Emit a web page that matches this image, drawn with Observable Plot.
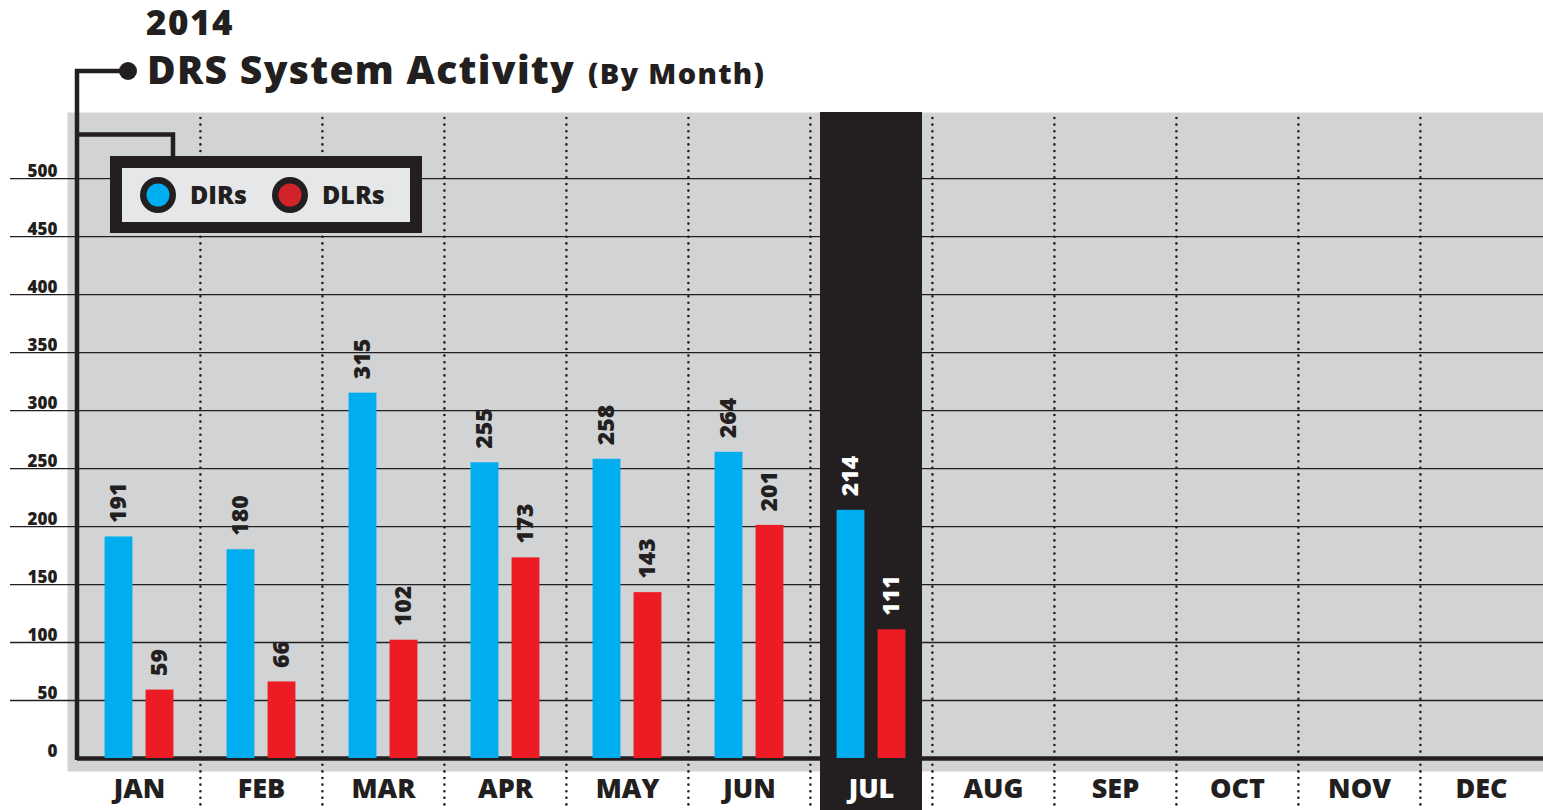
<!DOCTYPE html>
<html>
<head>
<meta charset="utf-8">
<script src="https://cdn.jsdelivr.net/npm/d3@7"></script>
<script src="https://cdn.jsdelivr.net/npm/@observablehq/plot@0.6"></script>
<style>
  html, body { margin: 0; padding: 0; background: #ffffff; }
  body { width: 1543px; height: 810px; overflow: hidden; position: relative; }
  #chart { position: absolute; left: 0; top: 0; }
</style>
</head>
<body>
<div id="chart"></div>
<script>
// ---- Data ----
const months = ["JAN", "FEB", "MAR", "APR", "MAY", "JUN", "JUL", "AUG", "SEP", "OCT", "NOV", "DEC"];
const dataMonths = ["JAN", "FEB", "MAR", "APR", "MAY", "JUN", "JUL"];
const dirs = [191, 180, 315, 255, 258, 264, 214];
const dlrs = [59, 66, 102, 173, 143, 201, 111];
const yTicks = [0, 50, 100, 150, 200, 250, 300, 350, 400, 450, 500];
const seriesNames = ["DIRs", "DLRs"];
const highlightMonth = "JUL";
const titleYear = "2014";
const titleMain = "DRS System Activity";
const titleSub = "(By Month)";

// ---- Styling ----
const FONT = "'Open Sans', Lato, sans-serif";
const WEIGHT = 800;
const INK = "#231f20";
const BLUE = "#00aeef";
const RED = "#ed1c24";
const PANEL = "#d1d3d4";

const W = 1543, H = 810, ML = 77, MT = 112, MB = 52, MR = 0;
const yMax = 557;
const bw = (W - ML - MR) / months.length;
const barW = 28, gap = 13;
const off = (barW + gap) / 2;
const blueInL = bw / 2 - off - barW / 2;
const blueInR = bw - blueInL - barW;
const redInL = bw / 2 + off - barW / 2;
const redInR = bw - redInL - barW;

const rowsDIR = dataMonths.map((m, i) => ({month: m, series: seriesNames[0], value: dirs[i]}));
const rowsDLR = dataMonths.map((m, i) => ({month: m, series: seriesNames[1], value: dlrs[i]}));
const labelFill = d => (d.month === highlightMonth ? "#ffffff" : INK);

const chart = Plot.plot({
  width: W,
  height: H,
  marginLeft: ML,
  marginRight: MR,
  marginTop: MT,
  marginBottom: MB,
  x: {type: "band", domain: months, padding: 0, axis: null},
  y: {domain: [0, yMax], axis: null},
  color: {type: "identity"},
  style: {fontFamily: FONT, color: INK, background: "transparent", overflow: "visible"},
  marks: [
    Plot.frame({fill: PANEL, stroke: null, insetLeft: -10, insetBottom: -13}),
    Plot.ruleY(yTicks.slice(1), {y: d => d, stroke: INK, strokeWidth: 1.3, insetLeft: -67}),
    Plot.barY([highlightMonth], {x: d => d, y1: 0, y2: yMax, insetLeft: 10, insetRight: 10, insetBottom: -MB, fill: INK}),
    Plot.ruleX(months.slice(1), {x: d => d, dx: -bw / 2, stroke: INK, strokeWidth: 2.6,
      strokeDasharray: "0,6.6", strokeLinecap: "round", insetTop: 6, insetBottom: -47}),
    Plot.ruleY([0], {y: d => d, stroke: INK, strokeWidth: 4.5}),
    Plot.barY(rowsDIR, {x: "month", y: "value", fill: BLUE, insetLeft: blueInL, insetRight: blueInR}),
    Plot.barY(rowsDLR, {x: "month", y: "value", fill: RED, insetLeft: redInL, insetRight: redInR}),
    Plot.text(rowsDIR, {x: "month", y: "value", text: d => String(d.value), rotate: -90,
      textAnchor: "start", lineAnchor: "middle", dx: -off, dy: -14, fontSize: 23, fontWeight: WEIGHT, fill: labelFill}),
    Plot.text(rowsDLR, {x: "month", y: "value", text: d => String(d.value), rotate: -90,
      textAnchor: "start", lineAnchor: "middle", dx: off, dy: -14, fontSize: 23, fontWeight: WEIGHT, fill: labelFill}),
    Plot.text(yTicks, {y: d => d, text: d => String(d), frameAnchor: "left", textAnchor: "end", lineAnchor: "middle",
      dx: -20, dy: -7, fontSize: 17, fontWeight: WEIGHT, fill: INK}),
    Plot.text(months, {x: d => d, text: d => d, frameAnchor: "bottom", lineAnchor: "middle", dy: 31, fontSize: 27,
      fontWeight: WEIGHT, fill: d => (d === highlightMonth ? "#ffffff" : INK)})
  ]
});

document.getElementById("chart").appendChild(chart);

// ---- Decorations: title, connector lines, legend ----
const svg = d3.select(chart);
const deco = svg.append("g").attr("text-anchor", "start");
const axisX = ML;

// connector from title dot down the axis
deco.append("path").attr("d", `M128,71H${axisX}V760`).attr("fill", "none").attr("stroke", INK).attr("stroke-width", 4.5);
deco.append("circle").attr("cx", 128).attr("cy", 71).attr("r", 9).attr("fill", INK);
// connector to legend
deco.append("path").attr("d", `M${axisX},134.5H173V158`).attr("fill", "none").attr("stroke", INK).attr("stroke-width", 4.5);

// titles
deco.append("text").attr("x", 146).attr("y", 35).attr("font-family", FONT).attr("font-weight", WEIGHT)
  .attr("font-size", 35).attr("letter-spacing", 1.5).attr("fill", INK).text(titleYear);
deco.append("text").attr("x", 147).attr("y", 84).attr("font-family", FONT).attr("font-weight", WEIGHT)
  .attr("font-size", 39).attr("letter-spacing", 1.3).attr("fill", INK).text(titleMain);
deco.append("text").attr("x", 588).attr("y", 84).attr("font-family", FONT).attr("font-weight", WEIGHT)
  .attr("font-size", 29).attr("letter-spacing", 1.3).attr("fill", INK).text(titleSub);

// legend
const lg = deco.append("g");
lg.append("rect").attr("x", 110).attr("y", 156).attr("width", 312).attr("height", 77).attr("fill", INK);
lg.append("rect").attr("x", 122).attr("y", 168).attr("width", 288).attr("height", 54).attr("fill", "#e6e7e8");
const legendItems = [
  {name: seriesNames[0], color: BLUE, cx: 158, tx: 190},
  {name: seriesNames[1], color: "#d2232a", cx: 290, tx: 322}
];
legendItems.forEach(it => {
  lg.append("circle").attr("cx", it.cx).attr("cy", 195).attr("r", 18).attr("fill", INK);
  lg.append("circle").attr("cx", it.cx).attr("cy", 195).attr("r", 11.5).attr("fill", it.color);
  lg.append("text").attr("x", it.tx).attr("y", 204).attr("font-family", FONT).attr("font-weight", WEIGHT)
    .attr("font-size", 25).attr("fill", INK).text(it.name);
});
</script>
</body>
</html>
